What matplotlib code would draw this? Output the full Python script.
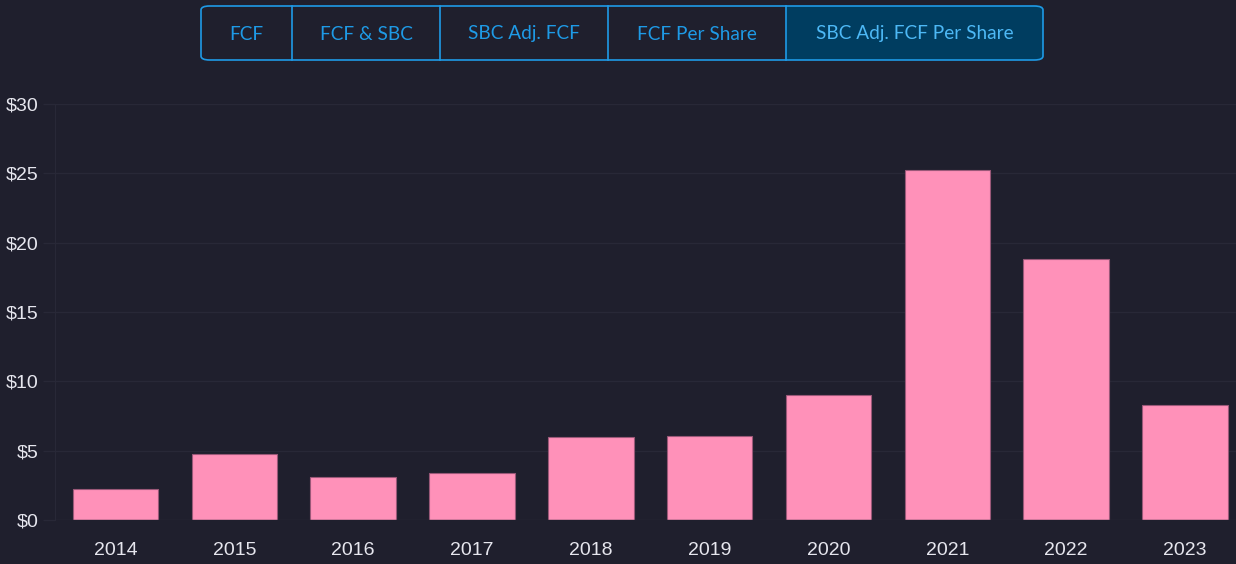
import numpy as np
import matplotlib.pyplot as plt
from matplotlib.patches import FancyBboxPatch, Rectangle

years = ['2014', '2015', '2016', '2017', '2018', '2019', '2020', '2021', '2022', '2023']
values = [2.21, 4.74, 3.12, 3.41, 6.01, 6.06, 9.03, 25.21, 18.84, 8.27]
buttons = ['FCF', 'FCF & SBC', 'SBC Adj. FCF', 'FCF Per Share', 'SBC Adj. FCF Per Share']
active = 4

bg = '#1f1f2d'
grid = '#282837'
txt = '#e6e6ee'
blue = '#1e9ae6'

W, H = 1236, 564
fig = plt.figure(figsize=(W / 100, H / 100), dpi=100, facecolor=bg)

# axes placed in pixel terms
ax = fig.add_axes([55 / W, 44 / H, (W - 55) / W, 416 / H], facecolor=bg)
x = np.arange(len(years))
ax.bar(x, values, width=0.72, color='#ff91b9', edgecolor='#9a5878', linewidth=0.8, zorder=3)
ax.set_xlim(-0.51, 9.43)
ax.set_ylim(0, 30)
ax.set_yticks(range(0, 31, 5))
ax.set_yticklabels(['$%d' % v for v in range(0, 31, 5)])
ax.set_xticks(x)
ax.set_xticklabels(years)
ax.grid(axis='y', color=grid, linewidth=1, zorder=0)
ax.tick_params(axis='y', length=8.6, width=1, color=grid, pad=3.5, labelsize=14, labelcolor=txt)
ax.tick_params(axis='x', length=0, pad=16, labelsize=14, labelcolor=txt)
for s in ['top', 'right', 'bottom']:
    ax.spines[s].set_visible(False)
ax.spines['left'].set_color(grid)
ax.axhline(0, color=grid, linewidth=1, zorder=4)
for lab in ax.get_xticklabels() + ax.get_yticklabels():
    lab.set_family('Liberation Sans')

# button bar at the top
edges = [201, 292, 440, 608, 786, 1043]
top, bot = 6, 60
def fx(px):
    return px / W
def fy(py):
    return 1 - py / H

act = FancyBboxPatch((fx(edges[active]), fy(bot)), fx(edges[-1] - edges[active]), (bot - top) / H,
                     boxstyle='round,pad=0,rounding_size=0.007', transform=fig.transFigure,
                     facecolor='#003d60', edgecolor='none')
fig.patches.append(act)
fig.patches.append(Rectangle((fx(edges[active]), fy(bot)), fx(60), (bot - top) / H,
                             transform=fig.transFigure, facecolor='#003d60', edgecolor='none'))
box = FancyBboxPatch((fx(edges[0]), fy(bot)), fx(edges[-1] - edges[0]), (bot - top) / H,
                     boxstyle='round,pad=0,rounding_size=0.007', transform=fig.transFigure,
                     facecolor='none', edgecolor=blue, linewidth=1.2)
fig.patches.append(box)
for e in edges[1:-1]:
    fig.add_artist(plt.Line2D([fx(e), fx(e)], [fy(bot), fy(top)], transform=fig.transFigure,
                              color=blue, linewidth=1.2))
for i, b in enumerate(buttons):
    cx = (edges[i] + edges[i + 1]) / 2
    fig.text(fx(cx), fy((top + bot) / 2 + 1), b, ha='center', va='center', fontsize=13.7,
             family='Lato', color='#4db8f5' if i == active else blue)

fig.savefig('out.png', dpi=100, facecolor=bg)
